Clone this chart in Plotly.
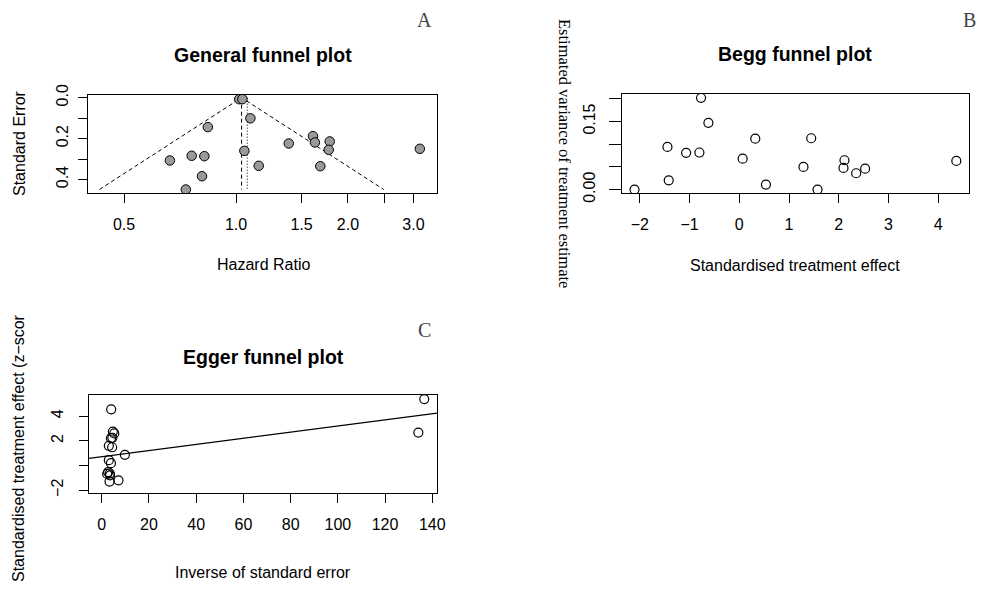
import math
import plotly.graph_objects as go

# ---------------- data ----------------
# Panel A: general funnel plot (hazard ratio vs standard error)
hr_values = [1.02, 1.04, 1.093, 0.84, 1.61, 1.63, 1.786, 1.386, 1.775, 3.12,
             1.053, 0.76, 0.822, 0.664, 1.151, 1.685, 0.81, 0.733]
se_values = [0.0075, 0.0073, 0.101, 0.144, 0.188, 0.219, 0.214, 0.224, 0.255, 0.25,
             0.26, 0.284, 0.286, 0.307, 0.333, 0.335, 0.384, 0.449]
hr_fixed = 1.035
hr_random = 1.072

# Panel B: Begg funnel plot
begg_effect = [-2.108, -1.446, -1.42, -1.07, -0.803, -0.77, -0.622, 0.067, 0.321,
               0.535, 1.29, 1.446, 1.573, 2.115, 2.095, 2.35, 2.53, 4.365]
begg_variance = [0.0, 0.094, 0.0205, 0.081, 0.0816, 0.202, 0.147, 0.068, 0.112,
                 0.011, 0.050, 0.113, 0.0, 0.0646, 0.0477, 0.036, 0.046, 0.063]

# Panel C: Egger funnel plot
egger_precision = [136.6, 134.1, 4.0, 5.3, 4.7, 4.5, 3.9, 4.4, 3.0, 9.8, 3.0, 3.9,
                   2.7, 3.4, 2.3, 3.5, 3.3, 7.1]
egger_z = [5.39, 2.67, 4.56, 2.60, 2.75, 2.25, 2.22, 1.48, 1.60, 0.87, 0.43, 0.19,
           -0.53, -0.65, -0.68, -0.80, -1.30, -1.20]
egger_intercept = 0.72
egger_slope = 0.0249

# tick labels
a_xticks = [0.5, 1.0, 1.5, 2.0, 2.5, 3.0]
a_xtext = ["0.5", "1.0", "1.5", "2.0", "", "3.0"]
a_yticks = [0.0, 0.1, 0.2, 0.3, 0.4]
a_ytext = ["0.0", "", "0.2", "", "0.4"]
b_xticks = [-2, -1, 0, 1, 2, 3, 4]
b_xtext = ["\u22122", "\u22121", "0", "1", "2", "3", "4"]
b_yticks = [0.0, 0.05, 0.10, 0.15, 0.20]
b_ytext = ["0.00", "", "", "0.15", ""]
c_xticks = [0, 20, 40, 60, 80, 100, 120, 140]
c_xtext = ["0", "20", "40", "60", "80", "100", "120", "140"]
c_yticks = [-2, 0, 2, 4]
c_ytext = ["\u22122", "", "2", "4"]

# ---------------- figure ----------------
PAGE_W, PAGE_H = 985, 590
OFF = 8  # default page body margin
W, H = PAGE_W - OFF, PAGE_H - OFF
SANS = "Liberation Sans, Arial, Helvetica, sans-serif"
SERIF = "Liberation Serif, Times New Roman, serif"


def px(x):
    return (x - OFF) / W


def py(y):
    return 1 - (y - OFF) / H


fig = go.Figure()

# Panel A
a_xrange = [0.40, 3.47]
a_yrange = [0.466, -0.013]
se_max = max(se_values)
lf = math.log(hr_fixed)
fig.add_trace(go.Scatter(
    x=[math.exp(lf - 1.96 * se_max), hr_fixed, math.exp(lf + 1.96 * se_max)],
    y=[se_max, 0, se_max], mode="lines",
    line=dict(color="black", width=1, dash="4px,3px"),
    xaxis="x", yaxis="y", showlegend=False, hoverinfo="skip"))
fig.add_trace(go.Scatter(
    x=[hr_fixed, hr_fixed], y=[0, se_max], mode="lines",
    line=dict(color="black", width=1, dash="4px,3px"),
    xaxis="x", yaxis="y", showlegend=False, hoverinfo="skip"))
fig.add_trace(go.Scatter(
    x=[hr_random, hr_random], y=[0, se_max], mode="lines",
    line=dict(color="black", width=1, dash="1px,2px"),
    xaxis="x", yaxis="y", showlegend=False, hoverinfo="skip"))
fig.add_trace(go.Scatter(
    x=hr_values, y=se_values, mode="markers",
    marker=dict(size=9.5, color="#9a9a9a", line=dict(color="black", width=1)),
    xaxis="x", yaxis="y", showlegend=False))

# Panel B
fig.add_trace(go.Scatter(
    x=begg_effect, y=begg_variance, mode="markers",
    marker=dict(size=9, color="rgba(0,0,0,0)", line=dict(color="black", width=1.2)),
    xaxis="x2", yaxis="y2", showlegend=False))

# Panel C
c_xrange = [-5.4, 142.0]
fig.add_trace(go.Scatter(
    x=c_xrange, y=[egger_intercept + egger_slope * v for v in c_xrange], mode="lines",
    line=dict(color="black", width=1.2),
    xaxis="x3", yaxis="y3", showlegend=False, hoverinfo="skip"))
fig.add_trace(go.Scatter(
    x=egger_precision, y=egger_z, mode="markers",
    marker=dict(size=9, color="rgba(0,0,0,0)", line=dict(color="black", width=1.2)),
    xaxis="x3", yaxis="y3", showlegend=False))


def axis(domain, rng, tickvals, ticktext, anchor, is_y=False, log=False,
         ticklen=9, standoff=10):
    d = dict(domain=domain, range=rng, tickmode="array", tickvals=tickvals,
             ticktext=ticktext, showline=True, mirror=True, linecolor="black",
             linewidth=1, ticks="outside", ticklen=ticklen, tickwidth=1,
             tickcolor="black", showgrid=False, zeroline=False, anchor=anchor,
             automargin=False,
             tickfont=dict(family=SANS, size=16, color="black"),
             ticklabelstandoff=standoff)
    if log:
        d["type"] = "log"
        d["range"] = [math.log10(rng[0]), math.log10(rng[1])]
    if is_y:
        d["tickangle"] = -90
    return d


fig.update_layout(
    template="none",
    width=W, height=H, margin=dict(l=0, r=0, t=0, b=0, pad=0),
    paper_bgcolor="white", plot_bgcolor="white",
    xaxis=axis([px(88), px(437)], a_xrange, a_xticks, a_xtext, "y", log=True, standoff=8),
    yaxis=axis([py(193), py(95)], a_yrange, a_yticks, a_ytext, "x", is_y=True, standoff=4),
    xaxis2=axis([px(622), px(969)], [-2.36, 4.62], b_xticks, b_xtext, "y2", standoff=8),
    yaxis2=axis([py(193), py(94)], [-0.0075, 0.2104], b_yticks, b_ytext, "x2",
                is_y=True, ticklen=12, standoff=8),
    xaxis3=axis([px(89), px(437)], c_xrange, c_xticks, c_xtext, "y3", standoff=8),
    yaxis3=axis([py(493), py(395)], [-2.23, 5.72], c_yticks, c_ytext, "x3",
                is_y=True, standoff=10),
)

annotations = []


def ann(text, x, y, size=16, family=SANS, bold=False, angle=0, color="black"):
    annotations.append(dict(
        text=f"<b>{text}</b>" if bold else text, x=px(x), y=py(y),
        xref="paper", yref="paper", showarrow=False, xanchor="center",
        yanchor="middle", textangle=angle,
        font=dict(family=family, size=size, color=color)))


# titles
ann("General funnel plot", 263, 55, size=19.5, bold=True)
ann("Begg funnel plot", 795, 54, size=19.5, bold=True)
ann("Egger funnel plot", 263, 357, size=19.5, bold=True)
# axis titles
ann("Hazard Ratio", 263, 264)
ann("Standard Error", 19, 143, angle=-90)
ann("Standardised treatment effect", 795, 265)
ann("Estimated variance of treatment estimate", 565, 153, size=16.5,
    family=SERIF, angle=90)
ann("Inverse of standard error", 263, 572)
ann("Standardised treatment effect (z\u2212scor", 18, 448, angle=-90)
# panel letters
ann("A", 424, 20, size=20, family=SERIF, color="#444444")
ann("B", 969, 20, size=20, family=SERIF, color="#444444")
ann("C", 424, 330, size=20, family=SERIF, color="#444444")

fig.update_layout(annotations=annotations)
fig.write_html("out.html")
